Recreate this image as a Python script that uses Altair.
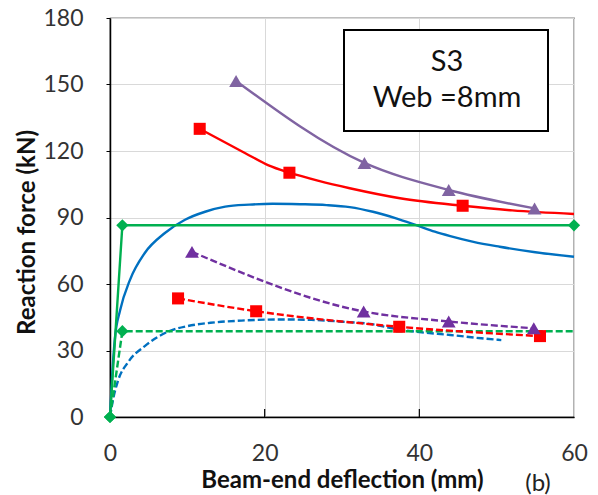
import altair as alt
import pandas as pd

# ---------------- data ----------------
x_ticks = [0, 20, 40, 60]
y_ticks = [0, 30, 60, 90, 120, 150, 180]
x_inner_ticks = [20, 40]

# blue solid curve (no markers)
blue_solid_x = [0, 0.3, 0.65, 1.3, 2.6, 4.5, 7.1, 9.7, 12.3, 14.9, 18, 21, 24.6, 28, 31, 34, 37, 39.7, 42, 44, 47, 50.4, 55, 60]
blue_solid_y = [0, 20, 36, 48, 62, 74, 83, 89, 92.6, 94.9, 95.8, 96.2, 96, 95.6, 94.7, 92.6, 89.6, 86.4, 83.6, 81.6, 79.0, 76.8, 74.3, 72.3]

# blue dashed curve (no markers)
blue_dash_x = [0, 0.4, 1.0, 2.4, 4.5, 7.5, 10, 13, 17, 22, 26, 30, 33.6, 37, 40, 44, 48, 50.6]
blue_dash_y = [0, 8, 16, 25, 32, 38.5, 41, 42.5, 43.5, 44, 43.8, 43, 42, 39.7, 38.3, 37, 35.5, 34.7]

# red solid: line and square markers
red_line_x = [11.6, 14, 17.5, 20.5, 23.2, 27, 31, 37.5, 45.6, 52, 60]
red_line_y = [130, 125.5, 119, 113.5, 110.2, 106.5, 103.2, 98.7, 95.3, 93.2, 91.6]
red_mark_x = [11.6, 23.2, 45.6]
red_mark_y = [130, 110.2, 95.3]

# red dashed with square markers
red_dash_x = [8.8, 18.9, 37.4, 55.6]
red_dash_y = [53.5, 47.7, 40.7, 36.5]

# purple solid with triangles
purple_x = [16.3, 32.9, 43.8, 54.9]
purple_y = [151.6, 114.6, 102.4, 94.1]

# purple dashed with triangles
purple_dash_x = [10.6, 32.8, 43.8, 54.8]
purple_dash_y = [74.5, 47.6, 43.1, 40.0]

# green solid with diamonds
green_x = [0, 1.6, 60]
green_y = [0, 86.5, 86.5]

# green dashed, diamonds at the first two points
green_dash_x = [0, 1.6, 60]
green_dash_y = [0, 38.7, 38.7]
green_dash_mark_x = [0, 1.6]
green_dash_mark_y = [0, 38.7]

box_lines = ["S3", "Web =8mm"]
panel_tag = "(b)"

x_title = "Beam-end deflection (mm)"
y_title = "Reaction force (kN)"

# ---------------- styles ----------------
BLUE = "#0070C0"
RED = "#FF0000"
PURPLE = "#8064A2"
PURPLE_D = "#7030A0"
GREEN = "#00B050"
FONT = "Lato"
DASH = [7, 3]
LW = 2.4

W, H = 464, 399

xs = alt.Scale(domain=[0, 60], nice=False, zero=False)
ys = alt.Scale(domain=[0, 180], nice=False, zero=False)

X_AXIS = alt.Axis(
    values=x_ticks,
    title=x_title,
    grid=True,
    gridColor="#D9D9D9",
    gridWidth=1,
    ticks=False,
    domain=True,
    domainColor="#000000",
    domainWidth=1.5,
    labelFont=FONT,
    labelFontSize=23,
    labelColor="#333333",
    labelPadding=25,
    labelFlush=False,
    titleFont=FONT,
    titleFontSize=24,
    titleFontWeight="bold",
    titleColor="#111111",
    titlePadding=3,
)

Y_AXIS = alt.Axis(
    values=y_ticks,
    title=y_title,
    grid=True,
    gridColor="#D9D9D9",
    gridWidth=1,
    ticks=True,
    tickSize=4,
    tickColor="#000000",
    domain=True,
    domainColor="#000000",
    domainWidth=1.5,
    labelFont=FONT,
    labelFontSize=23,
    labelColor="#333333",
    labelPadding=23,
    labelFlush=False,
    titleFont=FONT,
    titleFontSize=24,
    titleFontWeight="bold",
    titleColor="#111111",
    titleX=-83,
    titleY=214,
    titleAngle=270,
    titleAlign="center",
    titleBaseline="middle",
)


def df(x, y):
    return pd.DataFrame({"x": x, "y": y})


def enc(chart):
    return chart.encode(
        x=alt.X("x:Q", scale=xs, axis=X_AXIS),
        y=alt.Y("y:Q", scale=ys, axis=Y_AXIS),
    )


def line(x, y, color, dashed=False, interp="monotone"):
    kw = dict(color=color, strokeWidth=LW, interpolate=interp, clip=False)
    if dashed:
        kw["strokeDash"] = DASH
    return enc(alt.Chart(df(x, y)).mark_line(**kw))


def pts(x, y, color, shape, size):
    return enc(
        alt.Chart(df(x, y)).mark_point(
            shape=shape, filled=True, size=size, color=color, opacity=1, clip=False
        )
    )


inner_ticks = alt.Chart(pd.DataFrame({"x": x_inner_ticks})).mark_rule(
    color="#000000", strokeWidth=1.2
).encode(
    x=alt.X("x:Q", scale=xs, axis=X_AXIS),
    y=alt.value(H),
    y2=alt.value(H - 8),
)

box = alt.Chart(pd.DataFrame({"a": [0]})).mark_rect(
    fill="#FFFFFF", stroke="#000000", strokeWidth=2
).encode(
    x=alt.value(234), x2=alt.value(438), y=alt.value(12), y2=alt.value(113)
)

box_text1 = alt.Chart(pd.DataFrame({"t": [box_lines[0]]})).mark_text(
    font=FONT, fontSize=29, color="#111111", align="center", baseline="middle"
).encode(text="t:N", x=alt.value(337), y=alt.value(44))

box_text2 = alt.Chart(pd.DataFrame({"t": [box_lines[1]]})).mark_text(
    font=FONT, fontSize=29, color="#111111", align="center", baseline="middle"
).encode(text="t:N", x=alt.value(337), y=alt.value(80))

tag = alt.Chart(pd.DataFrame({"t": [panel_tag]})).mark_text(
    font=FONT, fontSize=24, color="#222222", align="center", baseline="middle"
).encode(text="t:N", x=alt.value(428), y=alt.value(466))

layers = [
    inner_ticks,
    box,
    box_text1,
    box_text2,
    tag,
    line(blue_dash_x, blue_dash_y, BLUE, dashed=True),
    line(blue_solid_x, blue_solid_y, BLUE),
    line(green_dash_x, green_dash_y, GREEN, dashed=True, interp="linear"),
    line(green_x, green_y, GREEN, interp="linear"),
    line(red_dash_x, red_dash_y, RED, dashed=True),
    line(red_line_x, red_line_y, RED),
    line(purple_dash_x, purple_dash_y, PURPLE_D, dashed=True),
    line(purple_x, purple_y, PURPLE),
    pts(green_dash_mark_x, green_dash_mark_y, GREEN, "diamond", 150),
    pts(green_x, green_y, GREEN, "diamond", 150),
    pts(red_dash_x, red_dash_y, RED, "square", 145),
    pts(red_mark_x, red_mark_y, RED, "square", 145),
    pts(purple_dash_x, purple_dash_y, PURPLE_D, "triangle-up", 190),
    pts(purple_x, purple_y, PURPLE, "triangle-up", 190),
]

chart = (
    alt.layer(*layers)
    .properties(
        width=W,
        height=H,
        autosize=alt.AutoSizeParams(type="none"),
        padding={"left": 110, "top": 18, "right": 24, "bottom": 78},
        background="#FFFFFF",
    )
    .configure_view(stroke="#000000", strokeWidth=1.2)
)

chart.save("out.html", embed_options={"renderer": "svg", "actions": False})
